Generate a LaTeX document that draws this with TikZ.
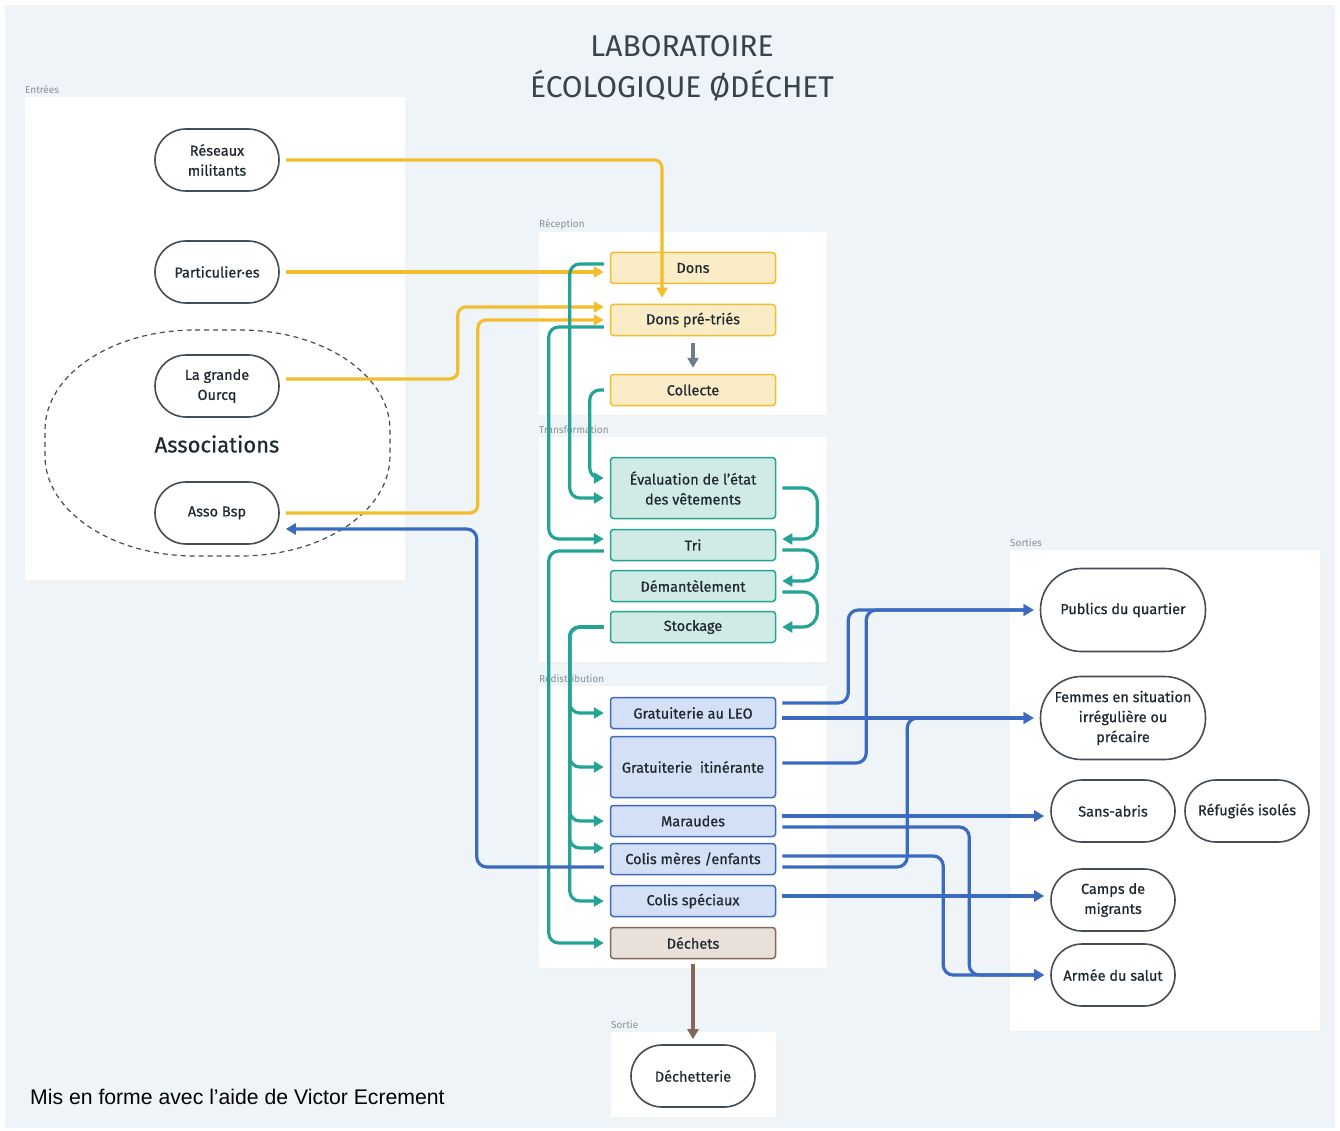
\documentclass[tikz,border=0pt]{standalone}
\usepackage{fontspec}
\setmainfont{Fira Sans}
\newfontfamily\nodefont{Fira Sans}[FakeBold=0.6]
\newfontfamily\footfont{Liberation Sans}
\usetikzlibrary{arrows.meta}
\definecolor{cbg}{RGB}{238,244,247}
\definecolor{cyel}{RGB}{242,190,46}
\definecolor{cyelf}{RGB}{251,236,200}
\definecolor{cteal}{RGB}{36,164,148}
\definecolor{ctealf}{RGB}{208,235,230}
\definecolor{cblue}{RGB}{58,107,193}
\definecolor{cbluef}{RGB}{212,224,246}
\definecolor{cbrown}{RGB}{130,105,90}
\definecolor{cbrownf}{RGB}{232,224,217}
\definecolor{cgrey}{RGB}{110,125,138}
\definecolor{cink}{RGB}{30,40,46}
\definecolor{cedge}{RGB}{68,76,84}
\definecolor{clabel}{RGB}{135,145,152}
\definecolor{ctitle}{RGB}{55,68,78}

\begin{document}
\begin{tikzpicture}[
  x=1pt,y=-1pt,
  font=\nodefont\fontsize{14.5}{20}\selectfont,text=cink,
  panel/.style={fill=white},
  shade/.style={fill=black!5},
  seclabel/.style={font=\rmfamily\fontsize{10}{12}\selectfont,text=clabel,anchor=base west,inner sep=0pt},
  pill/.style={draw=cedge,line width=1.6pt,fill=white,rounded corners=31pt,minimum width=124pt,minimum height=62pt,align=center,inner sep=2pt},
  bigpill/.style={pill,rounded corners=41pt,minimum width=165pt,minimum height=83pt},
  box/.style={rounded corners=3pt,line width=1.5pt,minimum width=165pt,minimum height=31pt,align=center,inner sep=2pt},
  recv/.style={box,draw=cyel,fill=cyelf},
  trans/.style={box,draw=cteal,fill=ctealf},
  redis/.style={box,draw=cblue,fill=cbluef},
  waste/.style={box,draw=cbrown,fill=cbrownf},
  tip/.style={-{Triangle[length=10pt,width=11pt]},shorten <=6pt,shorten >=6pt},
  inflow/.style={tip,cyel,line width=3.2pt,rounded corners=8pt},
  flow/.style={tip,cteal,line width=3.2pt,rounded corners=10pt},
  outflow/.style={tip,cblue,line width=3.2pt,rounded corners=10pt},
]
\useasboundingbox (0,0) rectangle (1340,1131);
\fill[white] (0,0) rectangle (1340,1131);
\fill[cbg] (5,5) rectangle (1335,1128);

% panels
\foreach \xa/\ya/\xb/\yb in {25/97/405/580, 539/232/827/415, 539/437/827/662, 539/686/827/968, 611/1032/776/1117, 1010/550/1320/1031} {
  \fill[shade] (\xa+2,\ya+2) rectangle (\xb+2,\yb+2);
  \fill[panel] (\xa,\ya) rectangle (\xb,\yb);
}
\node[seclabel] at (25,94) {Entrées};
\node[seclabel] at (539,228) {Réception};
\node[seclabel] at (539,433) {Transformation};
\node[seclabel] at (539,682) {Redistribution};
\node[seclabel] at (611,1028) {Sortie};
\node[seclabel] at (1010,546) {Sorties};

\node[font=\rmfamily\fontsize{30}{41}\selectfont,text=ctitle,align=center] (title) at (682,68) {LABORATOIRE\\ÉCOLOGIQUE ØDÉCHET};

% entrées
\draw[cedge,line width=1.2pt,dash pattern=on 5pt off 4pt]
  (195,330) -- (240,330) arc[start angle=270,end angle=360,x radius=150,y radius=100]
  -- (390,456) arc[start angle=0,end angle=90,x radius=150,y radius=100]
  -- (195,556) arc[start angle=90,end angle=180,x radius=150,y radius=100]
  -- (45,430) arc[start angle=180,end angle=270,x radius=150,y radius=100] -- cycle;
\node[pill] (reseaux) at (217,160) {Réseaux\\militants};
\node[pill] (partic)  at (217,272) {Particulier·es};
\node[pill] (ourcq)   at (217,386) {La grande\\Ourcq};
\node[font=\nodefont\fontsize{22}{26}\selectfont] (assoc) at (217,444) {Associations};
\node[pill] (asso)    at (217,513) {Asso Bsp};

% réception, transformation, redistribution
\node[recv] (dons)     at (693,268) {Dons};
\node[recv] (pretries) at (693,320) {Dons pré-triés};
\node[recv] (collecte) at (693,390) {Collecte};
\node[trans,minimum height=61pt] (eval) at (693,488) {Évaluation de l’état\\des vêtements};
\node[trans] (tri)      at (693,545) {Tri};
\node[trans] (dem)      at (693,586) {Démantèlement};
\node[trans] (stockage) at (693,627) {Stockage};
\node[redis] (leo)      at (693,713) {Gratuiterie au LEO};
\node[redis,minimum height=61pt] (itin) at (693,767) {Gratuiterie\ \ itinérante};
\node[redis] (maraudes) at (693,821) {Maraudes};
\node[redis] (meres)    at (693,859) {Colis mères /enfants};
\node[redis] (speciaux) at (693,901) {Colis spéciaux};
\node[waste] (dechets)  at (693,943) {Déchets};
\node[pill] (dechetterie) at (693,1076) {Déchetterie};

% sorties
\node[bigpill] (publics) at (1123,610) {Publics du quartier};
\node[bigpill] (femmes)  at (1123,718) {Femmes en situation\\irrégulière ou\\précaire};
\node[pill] (sansabris)  at (1113,811) {Sans-abris};
\node[pill] (refugies)   at (1247,811) {Réfugiés isolés};
\node[pill] (camps)      at (1113,900) {Camps de\\migrants};
\node[pill] (armee)      at (1113,975) {Armée du salut};

\node[font=\footfont\fontsize{21.2}{24}\selectfont,text=black,anchor=base west,inner sep=0pt] (credit) at (30,1104) {Mis en forme avec l’aide de Victor Ecrement};

% entrées -> réception
\draw[inflow] (reseaux.east) -| ([xshift=-31pt]pretries.north);
\draw[inflow] (partic.east) -- (partic.east -| dons.west);
\draw[inflow] ([yshift=7pt]ourcq.east) -- ++(178,0) |- ([yshift=13pt]pretries.west);
\draw[inflow] (asso.east) -- ++(198,0) |- (pretries.west);
\draw[-{Triangle[length=10pt,width=11pt]},cgrey,line width=3.4pt,shorten <=7pt,shorten >=6pt] (pretries.south) -- (collecte.north);

% vers transformation
\draw[flow] ([yshift=4pt]dons.west) -- ++(-40,0) |- ([yshift=-10pt]eval.west);
\draw[flow] ([yshift=-7pt]pretries.west) -- ++(-61,0) |- ([yshift=6pt]tri.west);
\draw[flow] (collecte.west) -- ++(-20,0) |- ([yshift=10pt]eval.west);
\draw[flow,rounded corners=14pt] (eval.east) -- ++(41,0) |- ([yshift=6pt]tri.east);
\draw[flow,rounded corners=13pt] ([yshift=-5pt]tri.east) -- ++(41,0) |- ([yshift=5pt]dem.east);
\draw[flow,rounded corners=14pt] ([yshift=-6pt]dem.east) -- ++(41,0) |- (stockage.east);
\draw[flow] ([yshift=-6pt]tri.west) -- ++(-61,0) |- (dechets.west);
\foreach \t/\dy in {leo/0,itin/0,maraudes/0,meres/11,speciaux/0}
  \draw[flow] (stockage.west) -- ++(-40,0) |- ([yshift=\dy pt]\t.west);
\draw[-{Triangle[length=10pt,width=11pt]},cbrown,line width=3.4pt,shorten <=5pt,shorten >=5pt] (dechets.south) -- (dechetterie.north);

% redistribution -> sorties
\draw[outflow] ([yshift=-8pt]meres.west) -- ++(-133,0) |- ([yshift=-16pt]asso.east);
\draw[outflow] ([yshift=10pt]leo.east) -- ++(72,0) |- (publics.west);
\draw[outflow] ([yshift=4pt]itin.east) -- ++(90,0) |- (publics.west);
\draw[outflow] ([yshift=-5pt]leo.east) -- (femmes.west);
\draw[outflow] ([yshift=-8pt]meres.east) -- ++(131,0) |- (femmes.west);
\draw[outflow] ([yshift=5pt]maraudes.east) -- ([yshift=-5pt]sansabris.west);
\draw[outflow] ([yshift=-6pt]maraudes.east) -- ++(193,0) |- (armee.west);
\draw[outflow] ([yshift=3pt]meres.east) -- ++(167,0) |- (armee.west);
\draw[outflow] ([yshift=5pt]speciaux.east) -- ([yshift=4pt]camps.west);
\end{tikzpicture}
\end{document}
